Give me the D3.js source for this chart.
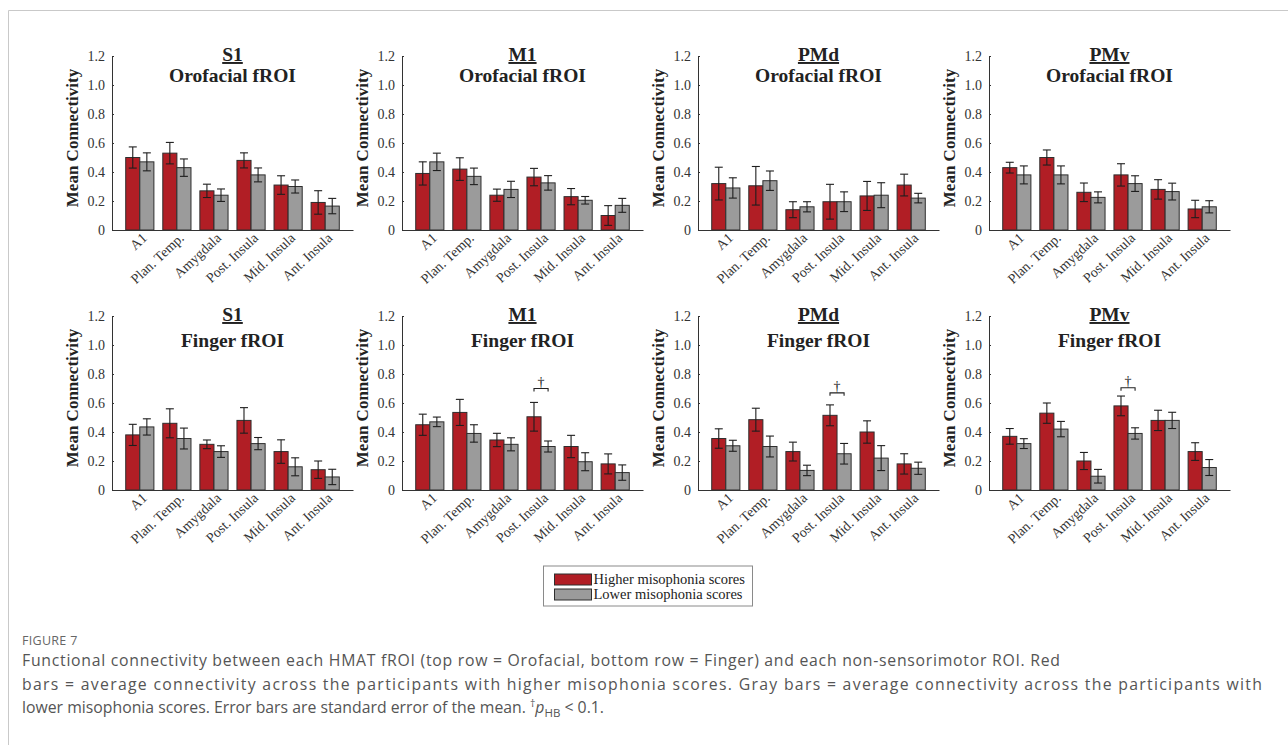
<!DOCTYPE html>
<html>
<head>
<meta charset="utf-8">
<script src="https://cdn.jsdelivr.net/npm/d3@7"></script>
<style>
  body { margin: 0; background: #fff; }
  svg { display: block; }
</style>
</head>
<body>
<div id="chart"></div>
<script>
// ---- data ----
const categories = ["A1", "Plan. Temp.", "Amygdala", "Post. Insula", "Mid. Insula", "Ant. Insula"];
const groups = ["Higher misophonia scores", "Lower misophonia scores"];
const regions = ["S1", "M1", "PMd", "PMv"];
const rowTitles = ["Orofacial fROI", "Finger fROI"];
const yTicks = [0, 0.2, 0.4, 0.6, 0.8, 1.0, 1.2];

// top row: orofacial fROI
const s1OroHigh   = [0.50, 0.53, 0.27, 0.48, 0.31, 0.19];
const s1OroHighSE = [0.073, 0.074, 0.046, 0.052, 0.064, 0.081];
const s1OroLow    = [0.47, 0.43, 0.24, 0.38, 0.30, 0.165];
const s1OroLowSE  = [0.062, 0.060, 0.043, 0.048, 0.045, 0.053];

const m1OroHigh   = [0.39, 0.42, 0.24, 0.365, 0.23, 0.10];
const m1OroHighSE = [0.080, 0.078, 0.042, 0.060, 0.056, 0.068];
const m1OroLow    = [0.47, 0.37, 0.28, 0.325, 0.205, 0.17];
const m1OroLowSE  = [0.060, 0.057, 0.056, 0.050, 0.026, 0.048];

const pmdOroHigh   = [0.32, 0.305, 0.14, 0.195, 0.235, 0.31];
const pmdOroHighSE = [0.113, 0.133, 0.055, 0.120, 0.100, 0.075];
const pmdOroLow    = [0.29, 0.34, 0.16, 0.195, 0.24, 0.22];
const pmdOroLowSE  = [0.070, 0.067, 0.035, 0.068, 0.086, 0.033];

const pmvOroHigh   = [0.43, 0.50, 0.26, 0.38, 0.28, 0.145];
const pmvOroHighSE = [0.037, 0.052, 0.064, 0.077, 0.067, 0.060];
const pmvOroLow    = [0.38, 0.38, 0.225, 0.32, 0.265, 0.16];
const pmvOroLowSE  = [0.062, 0.062, 0.038, 0.054, 0.058, 0.042];

// bottom row: finger fROI
const s1FinHigh   = [0.38, 0.46, 0.315, 0.48, 0.265, 0.14];
const s1FinHighSE = [0.073, 0.100, 0.030, 0.088, 0.081, 0.060];
const s1FinLow    = [0.435, 0.355, 0.265, 0.32, 0.16, 0.09];
const s1FinLowSE  = [0.056, 0.072, 0.040, 0.042, 0.062, 0.053];

const m1FinHigh   = [0.45, 0.535, 0.345, 0.505, 0.30, 0.18];
const m1FinHighSE = [0.073, 0.090, 0.046, 0.099, 0.077, 0.069];
const m1FinLow    = [0.47, 0.39, 0.315, 0.30, 0.195, 0.12];
const m1FinLowSE  = [0.033, 0.060, 0.045, 0.038, 0.062, 0.053];

const pmdFinHigh   = [0.355, 0.485, 0.265, 0.515, 0.40, 0.18];
const pmdFinHighSE = [0.067, 0.079, 0.065, 0.072, 0.077, 0.070];
const pmdFinLow    = [0.305, 0.30, 0.135, 0.25, 0.22, 0.15];
const pmdFinLowSE  = [0.038, 0.072, 0.036, 0.071, 0.086, 0.042];

const pmvFinHigh   = [0.37, 0.53, 0.20, 0.58, 0.48, 0.265];
const pmvFinHighSE = [0.054, 0.070, 0.059, 0.068, 0.070, 0.061];
const pmvFinLow    = [0.32, 0.42, 0.095, 0.39, 0.48, 0.155];
const pmvFinLowSE  = [0.034, 0.053, 0.047, 0.039, 0.056, 0.055];

// dagger (p_HB < 0.1) brackets: panel -> bracket height
const daggerCategory = "Post. Insula";
const daggerHeights = { "M1-1": 0.70, "PMd-1": 0.67, "PMv-1": 0.705 };

const panels = [
  [s1OroHigh, s1OroHighSE, s1OroLow, s1OroLowSE],
  [m1OroHigh, m1OroHighSE, m1OroLow, m1OroLowSE],
  [pmdOroHigh, pmdOroHighSE, pmdOroLow, pmdOroLowSE],
  [pmvOroHigh, pmvOroHighSE, pmvOroLow, pmvOroLowSE],
  [s1FinHigh, s1FinHighSE, s1FinLow, s1FinLowSE],
  [m1FinHigh, m1FinHighSE, m1FinLow, m1FinLowSE],
  [pmdFinHigh, pmdFinHighSE, pmdFinLow, pmdFinLowSE],
  [pmvFinHigh, pmvFinHighSE, pmvFinLow, pmvFinLowSE]
].map((a, i) => ({
  region: regions[i % 4],
  row: Math.floor(i / 4),
  col: i % 4,
  means: [a[0], a[2]],
  ses: [a[1], a[3]]
}));

// ---- layout ----
const W = 1288, H = 745;
const panelW = 241, panelH = 174;
const colX = [112, 402, 698, 989];
const rowY = [56, 316];
const titleOffsets = [[5, 26], [5, 31]];
const serif = "Liberation Serif, Times New Roman, serif";

const svg = d3.select("#chart").append("svg")
  .attr("width", W)
  .attr("height", H);

// thin frame round the figure (page border)
svg.append("path")
  .attr("d", `M8.5,${H} V10.5 H${W}`)
  .attr("fill", "none")
  .attr("stroke", "#c9c9c9");

const y = d3.scaleLinear().domain([0, 1.2]).range([panelH, 0]);
const x0 = d3.scaleBand().domain(categories).range([0, panelW])
  .paddingInner(0.24).paddingOuter(0.37);
const x1 = d3.scaleBand().domain(groups).range([0, x0.bandwidth()]);
const color = d3.scaleOrdinal().domain(groups).range(["#b11e25", "#9b9b9b"]);

panels.forEach(p => {
  const g = svg.append("g")
    .attr("transform", `translate(${colX[p.col]},${rowY[p.row]})`);

  const rows = categories.map((c, i) => ({
    cat: c,
    vals: groups.map((k, j) => ({ key: k, mean: p.means[j][i], se: p.ses[j][i] }))
  }));

  // bars
  const grp = g.selectAll(".grp")
    .data(rows)
    .join("g")
    .attr("class", "grp")
    .attr("transform", d => `translate(${x0(d.cat)},0)`);

  grp.selectAll("rect")
    .data(d => d.vals)
    .join("rect")
    .attr("x", d => x1(d.key))
    .attr("y", d => y(d.mean))
    .attr("width", x1.bandwidth())
    .attr("height", d => y(0) - y(d.mean))
    .attr("fill", d => color(d.key))
    .attr("stroke", "#2e2e2e")
    .attr("stroke-width", 1);

  // error bars
  const err = grp.selectAll(".err")
    .data(d => d.vals)
    .join("g")
    .attr("class", "err")
    .attr("stroke", "#1e1e1e")
    .attr("stroke-width", 1.1)
    .attr("transform", d => `translate(${x1(d.key) + x1.bandwidth() / 2},0)`);
  err.append("line")
    .attr("y1", d => y(d.mean + d.se)).attr("y2", d => y(d.mean - d.se));
  err.append("line")
    .attr("x1", -4).attr("x2", 4)
    .attr("y1", d => y(d.mean + d.se)).attr("y2", d => y(d.mean + d.se));
  err.append("line")
    .attr("x1", -4).attr("x2", 4)
    .attr("y1", d => y(d.mean - d.se)).attr("y2", d => y(d.mean - d.se));

  // axes
  const yAxis = g.append("g")
    .call(d3.axisLeft(y)
      .tickValues(yTicks)
      .tickFormat(d => d === 0 ? "0" : d3.format(".1f")(d))
      .tickSizeInner(-2)
      .tickSizeOuter(0)
      .tickPadding(7));
  const xAxis = g.append("g")
    .attr("transform", `translate(0,${panelH})`)
    .call(d3.axisBottom(x0).tickSize(0).tickPadding(0));

  [yAxis, xAxis].forEach(a => {
    a.attr("font-family", serif).attr("font-size", 14);
    a.select(".domain").attr("stroke", "#333");
    a.selectAll(".tick line").attr("stroke", "#333");
    a.selectAll(".tick text").attr("fill", "#333");
  });

  // rotated category labels
  xAxis.selectAll(".tick text")
    .attr("text-anchor", "end")
    .attr("dy", null)
    .attr("y", null)
    .attr("transform", "translate(8,9) rotate(-43)");

  // y label
  g.append("text")
    .attr("transform", `translate(-34,${panelH / 2 - 5}) rotate(-90)`)
    .attr("text-anchor", "middle")
    .attr("font-family", serif)
    .attr("font-size", 17)
    .attr("font-weight", "bold")
    .attr("fill", "#222")
    .text("Mean Connectivity");

  // titles
  const [t1, t2] = titleOffsets[p.row];
  g.append("text")
    .attr("x", panelW / 2).attr("y", t1)
    .attr("text-anchor", "middle")
    .attr("text-decoration", "underline")
    .attr("font-family", serif)
    .attr("font-size", 19.5)
    .attr("font-weight", "bold")
    .attr("fill", "#222")
    .text(p.region);
  g.append("text")
    .attr("x", panelW / 2).attr("y", t2)
    .attr("text-anchor", "middle")
    .attr("font-family", serif)
    .attr("font-size", 19.5)
    .attr("font-weight", "bold")
    .attr("fill", "#222")
    .text(rowTitles[p.row]);

  // significance bracket
  const h = daggerHeights[`${p.region}-${p.row}`];
  if (h !== undefined) {
    const xa = x0(daggerCategory) + x1(groups[0]) + x1.bandwidth() / 2;
    const xb = x0(daggerCategory) + x1(groups[1]) + x1.bandwidth() / 2;
    g.append("path")
      .attr("d", `M${xa},${y(h) + 3}V${y(h)}H${xb}V${y(h) + 3}`)
      .attr("fill", "none")
      .attr("stroke", "#222")
      .attr("stroke-width", 1.1);
    g.append("text")
      .attr("x", (xa + xb) / 2).attr("y", y(h) - 2)
      .attr("text-anchor", "middle")
      .attr("font-family", serif)
      .attr("font-size", 14)
      .attr("fill", "#222")
      .text("\u2020");
  }
});

// legend
const legend = svg.append("g").attr("transform", "translate(543.5,566)");
legend.append("rect")
  .attr("width", 209).attr("height", 40)
  .attr("fill", "#fff").attr("stroke", "#8a8a8a");
const li = legend.selectAll(".li")
  .data(groups)
  .join("g")
  .attr("class", "li")
  .attr("transform", (d, i) => `translate(11,${8 + i * 15})`);
li.append("rect")
  .attr("width", 37).attr("height", 11)
  .attr("fill", d => color(d))
  .attr("stroke", "#2e2e2e");
li.append("text")
  .attr("x", 39).attr("y", 10)
  .attr("font-family", serif)
  .attr("font-size", 14.5)
  .attr("fill", "#222")
  .text(d => d);

// caption
const sans = "Open Sans, Noto Sans, sans-serif";
svg.append("text")
  .attr("x", 22).attr("y", 645)
  .attr("font-family", sans)
  .attr("font-size", 12.5)
  .attr("letter-spacing", 0.3)
  .attr("fill", "#666")
  .text("FIGURE 7");

const capLines = [
  "Functional connectivity between each HMAT fROI (top row = Orofacial, bottom row = Finger) and each non-sensorimotor ROI. Red",
  "bars = average connectivity across the participants with higher misophonia scores. Gray bars = average connectivity across the participants with",
  "lower misophonia scores. Error bars are standard error of the mean. "
];
const capWidths = [1038, 1240, null];
const cap = svg.append("g")
  .attr("font-family", sans)
  .attr("font-size", 15.8)
  .attr("fill", "#555");
cap.selectAll("text")
  .data(capLines)
  .join("text")
  .attr("x", 22)
  .attr("y", (d, i) => 666 + i * 23.5)
  .attr("textLength", (d, i) => capWidths[i])
  .attr("lengthAdjust", "spacing")
  .text(d => d);
const last = cap.selectAll("text").filter((d, i) => i === 2);
last.append("tspan").attr("dy", -6).attr("font-size", 10.5).text("\u2020");
last.append("tspan").attr("dy", 6).attr("font-style", "italic").text("p");
last.append("tspan").attr("dy", 4).attr("font-size", 11.5).text("HB");
last.append("tspan").attr("dy", -4).text(" < 0.1.");
</script>
</body>
</html>
